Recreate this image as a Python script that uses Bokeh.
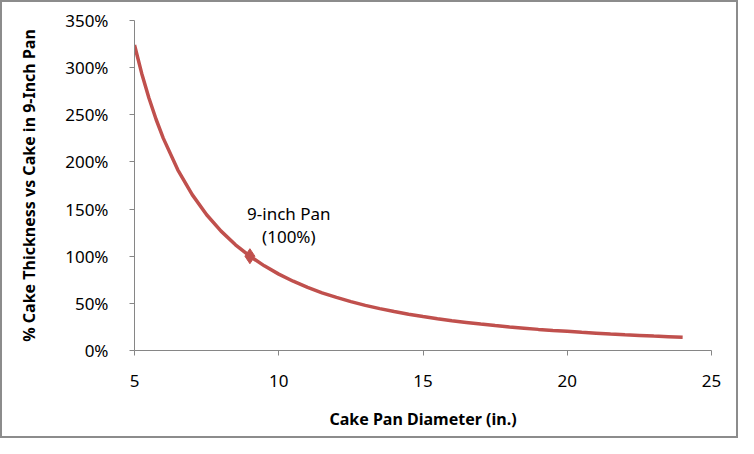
from bokeh.plotting import figure
from bokeh.models import PrintfTickFormatter, FixedTicker, Range1d
from bokeh.embed import file_html
from bokeh.resources import INLINE
from bokeh.core.properties import value

# Data
diameter = [5, 5.25, 5.5, 5.75, 6, 6.5, 7, 7.5, 8, 8.5, 9, 9.5, 10, 10.5, 11, 11.5, 12, 12.5,
            13, 13.5, 14, 14.5, 15, 15.5, 16, 16.5, 17, 17.5, 18, 18.5, 19, 19.5,
            20, 20.5, 21, 21.5, 22, 22.5, 23, 23.5, 24]
thickness_pct = [324.0, 293.9, 267.8, 245.0, 225.0, 191.7, 165.3, 144.0, 126.6, 112.1, 100.0, 89.8,
                 81.0, 73.5, 66.9, 61.2, 56.3, 51.8, 47.9, 44.4, 41.3, 38.5, 36.0,
                 33.7, 31.6, 29.8, 28.0, 26.4, 25.0, 23.7, 22.4, 21.3, 20.3, 19.3,
                 18.4, 17.5, 16.7, 16.0, 15.3, 14.7, 14.1]
marker_x = [9]
marker_y = [100]
annotation_text = ["9-inch Pan\n(100%)"]
annotation_x = [10.35]
annotation_y = [133]
x_ticks = [5, 10, 15, 20, 25]
y_ticks = [0, 50, 100, 150, 200, 250, 300, 350]

FONT = "Noto Sans"
RED = "#C0504D"
AXIS = "#868686"

p = figure(width=738, height=438, output_backend="svg", toolbar_location=None,
           x_range=Range1d(5, 25), y_range=Range1d(0, 350),
           min_border_left=132, min_border_right=29, min_border_top=18, min_border_bottom=90)
p.styles = {"border": "2px solid #8c8c8c", "box-sizing": "border-box"}
p.outline_line_color = None
p.xgrid.visible = False
p.ygrid.visible = False

p.line(diameter, thickness_pct, line_color=RED, line_width=3.5)
p.scatter(marker_x, marker_y, marker="diamond", size=15, fill_color=RED, line_color=RED)
p.text(annotation_x, annotation_y, text=annotation_text, text_font=value(FONT),
       text_font_size="17px", text_align="center", text_baseline="middle",
       text_color="#000000", text_line_height=1.0)

for ax in (p.xaxis[0], p.yaxis[0]):
    ax.axis_line_color = AXIS
    ax.major_tick_line_color = AXIS
    ax.minor_tick_line_color = None
    ax.major_tick_out = 5
    ax.major_tick_in = 0
    ax.major_label_text_font = FONT
    ax.major_label_text_font_size = "17px"
    ax.major_label_text_color = "#000000"
    ax.axis_label_text_font = FONT
    ax.axis_label_text_font_size = "16px"
    ax.axis_label_text_font_style = "bold"
    ax.axis_label_text_color = "#000000"

p.xaxis.ticker = FixedTicker(ticks=x_ticks)
p.yaxis.ticker = FixedTicker(ticks=y_ticks)
p.yaxis.formatter = PrintfTickFormatter(format="%d%%")
p.xaxis.major_label_standoff = 19
p.yaxis.major_label_standoff = 21
p.xaxis.axis_label = "Cake Pan Diameter (in.)"
p.yaxis.axis_label = "% Cake Thickness vs Cake in 9-Inch Pan"
p.xaxis.axis_label_standoff = 18
p.yaxis.axis_label_standoff = 22

open("out.html", "w").write(file_html(p, INLINE))
